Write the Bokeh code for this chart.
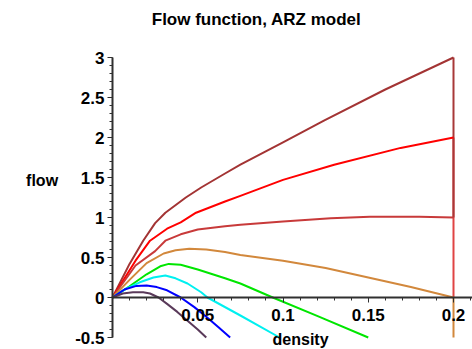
from bokeh.plotting import figure
from bokeh.models import Range1d, FixedTicker, NumeralTickFormatter, Label
from bokeh.embed import file_html
from bokeh.resources import INLINE

# ---- data ----
title_text = "Flow function, ARZ model"
x_label = "density"
y_label = "flow"

x_ticks = [0.05, 0.1, 0.15, 0.2]
y_ticks = [-0.5, 0, 0.5, 1, 1.5, 2, 2.5, 3]

brown_x = [0, 0.01, 0.018, 0.025, 0.031, 0.043, 0.052, 0.066, 0.075, 0.1, 0.124, 0.16, 0.2]
brown_y = [0, 0.42, 0.71, 0.93, 1.06, 1.25, 1.375, 1.55, 1.66, 1.94, 2.21, 2.6, 3.0]

red_x = [0, 0.0135, 0.022, 0.032, 0.04, 0.049, 0.066, 0.075, 0.1, 0.13, 0.169, 0.2]
red_y = [0, 0.46, 0.71, 0.86, 0.94, 1.06, 1.2, 1.27, 1.47, 1.66, 1.87, 2.0]

fire_x = [0, 0.0135, 0.025, 0.031, 0.04, 0.05, 0.066, 0.075, 0.1, 0.128, 0.151, 0.18, 0.2]
fire_y = [0, 0.4, 0.58, 0.71, 0.79, 0.85, 0.89, 0.91, 0.95, 0.99, 1.01, 1.01, 1.0]

orange_x = [0, 0.01, 0.02, 0.03, 0.037, 0.045, 0.055, 0.066, 0.075, 0.1, 0.125, 0.15, 0.175, 0.2]
orange_y = [0, 0.22, 0.43, 0.55, 0.59, 0.61, 0.60, 0.57, 0.53, 0.46, 0.37, 0.25, 0.13, 0.0]

green_x = [0, 0.01, 0.02, 0.028, 0.033, 0.04, 0.05, 0.066, 0.075, 0.094, 0.12, 0.15]
green_y = [0, 0.14, 0.29, 0.39, 0.42, 0.41, 0.35, 0.24, 0.175, 0.0, -0.23, -0.5]

cyan_x = [0, 0.008, 0.016, 0.024, 0.031, 0.037, 0.044, 0.052, 0.0557, 0.075, 0.098]
cyan_y = [0, 0.11, 0.19, 0.25, 0.275, 0.24, 0.175, 0.066, 0.0, -0.225, -0.5]

blue_x = [0, 0.007, 0.014, 0.02, 0.026, 0.032, 0.04, 0.048, 0.055, 0.062, 0.069]
blue_y = [0, 0.1, 0.145, 0.15, 0.13, 0.09, 0.0, -0.12, -0.24, -0.37, -0.5]

purple_x = [0, 0.006, 0.012, 0.018, 0.022, 0.027, 0.032, 0.038, 0.044, 0.05, 0.055]
purple_y = [0, 0.05, 0.065, 0.065, 0.05, 0.0, -0.08, -0.18, -0.29, -0.4, -0.5]

# vertical drops at the right end (rho = 0.2)
drop_x = [0.2, 0.2]
drop_red_y = [2.0, 0.0]
drop_brown_y = [3.0, 1.0]
drop_orange_y = [0.0, -0.5]

curves = [
    (brown_x, brown_y, "#a33434"),
    (red_x, red_y, "#ff0000"),
    (fire_x, fire_y, "#c83a3a"),
    (orange_x, orange_y, "#d2883c"),
    (green_x, green_y, "#00e600"),
    (cyan_x, cyan_y, "#00f0f0"),
    (blue_x, blue_y, "#0000ff"),
    (purple_x, purple_y, "#5a3a5a"),
]

FONT = "Liberation Sans"

p = figure(width=472, height=349, output_backend="svg", toolbar_location=None,
           x_range=Range1d(-112 / 1705, 360 / 1705),
           y_range=Range1d(-52 / 80, 297 / 80),
           min_border=0, background_fill_color="white", border_fill_color="white")
p.outline_line_color = None
p.grid.visible = False

p.line(drop_x, drop_red_y, line_color="#e04444", line_width=2)
p.line(drop_x, drop_brown_y, line_color="#a83838", line_width=2)
p.line(drop_x, drop_orange_y, line_color="#d2883c", line_width=2)
for xs, ys, c in curves:
    p.line(xs, ys, line_color=c, line_width=2, line_join="round")

for ax in (p.xaxis, p.yaxis):
    ax.fixed_location = 0
    ax.axis_line_color = "#303030"
    ax.axis_line_width = 2
    ax.major_tick_in = 0
    ax.major_tick_out = 5
    ax.minor_tick_in = 0
    ax.minor_tick_out = 3
    ax.major_tick_line_color = "#303030"
    ax.minor_tick_line_color = "#303030"
    ax.major_label_text_font = FONT
    ax.major_label_text_font_style = "bold"
    ax.major_label_text_font_size = "17px"
    ax.major_label_text_color = "black"

p.xaxis.ticker = FixedTicker(ticks=x_ticks, minor_ticks=[i / 100 for i in range(1, 22)])
p.yaxis.ticker = FixedTicker(ticks=y_ticks, minor_ticks=[i / 10 for i in range(-5, 31)])
p.xaxis.formatter = NumeralTickFormatter(format="0.[00]")
p.yaxis.formatter = NumeralTickFormatter(format="0.[0]")
p.xaxis.bounds = (0, 0.211)
p.yaxis.bounds = (-0.5, 3)
p.xaxis.major_label_standoff = 6
p.yaxis.major_label_standoff = 3

p.add_layout(Label(x=0.0845, y=3.475, text=title_text, text_font=FONT, text_font_style="bold",
                   text_font_size="17px", text_align="center", text_baseline="middle",
                   text_color="black"))
p.add_layout(Label(x=-0.0413, y=1.4625, text=y_label, text_font=FONT, text_font_style="bold",
                   text_font_size="16px", text_align="center", text_baseline="middle",
                   text_color="black"))
p.add_layout(Label(x=0.1103, y=-0.531, text=x_label, text_font=FONT, text_font_style="bold",
                   text_font_size="16px", text_align="center", text_baseline="alphabetic",
                   text_color="black"))

open("out.html", "w").write(file_html(p, INLINE))
